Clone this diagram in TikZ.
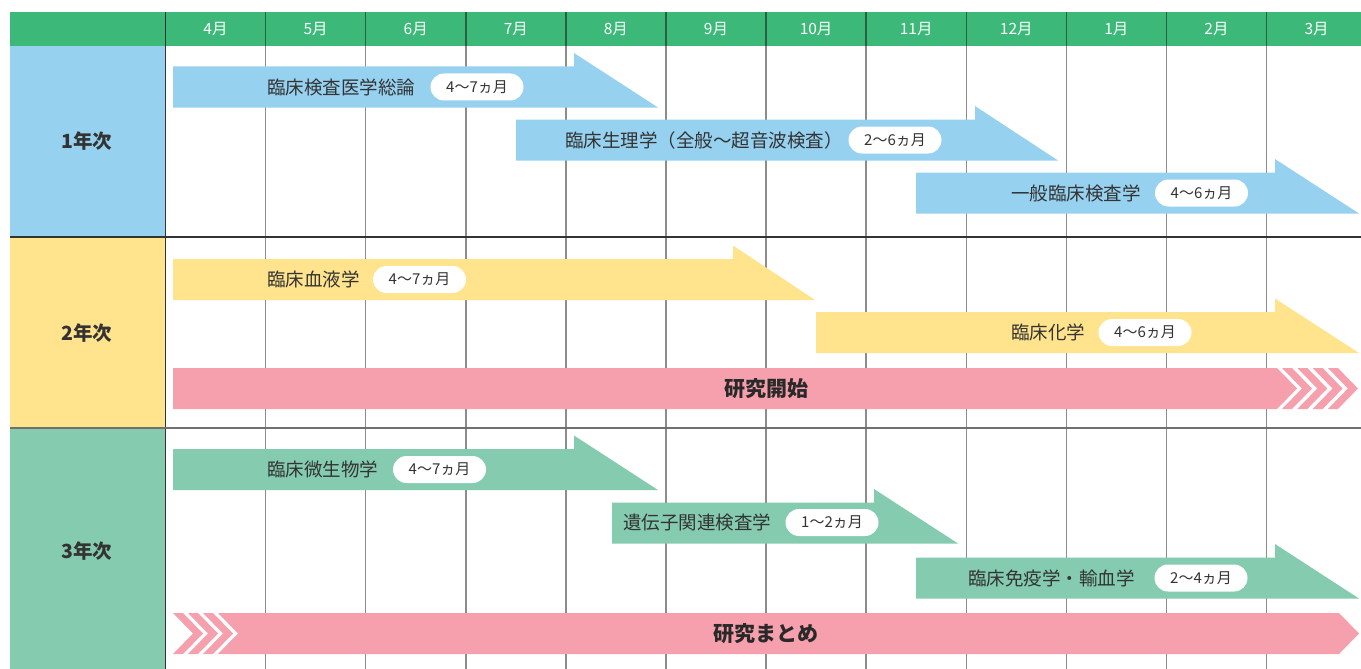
\documentclass[tikz,border=0pt]{standalone}
\usepackage{fontspec}
\setmainfont{Noto Sans CJK JP}
\definecolor{hdr}{RGB}{60,185,121}
\definecolor{hdrline}{RGB}{45,95,65}
\definecolor{cblue}{RGB}{150,209,240}
\definecolor{cyel}{RGB}{255,227,141}
\definecolor{cgrn}{RGB}{132,203,176}
\definecolor{cpink}{RGB}{245,160,172}
\definecolor{txt}{RGB}{51,51,51}
\definecolor{grid}{RGB}{140,140,140}
\tikzset{
  lbl/.style={anchor=west, inner sep=0pt, text=txt, font=\fontsize{18.5}{20}\selectfont},
  pill/.style={fill=white, rounded corners=13.5pt, minimum width=93pt, minimum height=27pt, inner sep=0pt, text=txt, font=\fontsize{15}{16}\selectfont},
  month/.style={text=white, inner sep=0pt, font=\fontsize{15.5}{16}\selectfont},
  year/.style={text=txt, inner sep=0pt, font=\bfseries\fontsize{19.5}{20}\selectfont},
  big/.style={text=txt!80!black, inner sep=0pt, font=\bfseries\fontsize{21}{22}\selectfont},
}
% arrow: #1 color, #2 left x, #3 head edge x, #4 top y, #5 tip x
\newcommand{\halfarrow}[5]{%
  \fill[#1] (#2,#4) -- (#3,#4) -- (#3,#4-13.5) -- (#5,#4+41) -- (#2,#4+41) -- cycle;}
\newcommand{\chev}[2]{% b, top
  \fill[cpink] (#1,#2) -- (#1+10,#2) -- (#1+30,#2+20.5) -- (#1+10,#2+41) -- (#1,#2+41) -- (#1+20,#2+20.5) -- cycle;}
\begin{document}
\begin{tikzpicture}[x=1pt,y=-1pt]
\useasboundingbox (0,0) rectangle (1361,669);
% header
\fill[hdr] (10,12) rectangle (1361,46);
% year cells
\fill[cblue] (10,46) rectangle (165.5,237);
\fill[cyel] (10,237) rectangle (165.5,428);
\fill[cgrn] (10,428) rectangle (165.5,669);
% grid lines
\foreach \k in {1,...,11}{
  \draw[grid, line width=1.5pt] (165.5+100.1*\k,46) -- (165.5+100.1*\k,669);
  \draw[hdrline, line width=1.5pt] (165.5+100.1*\k,12) -- (165.5+100.1*\k,46);
}
\draw[txt, line width=1.3pt] (165.5,12) -- (165.5,669);
\draw[txt, line width=1.2pt] (10,237) -- (1361,237);
\draw[txt!70, line width=1.6pt] (10,428) -- (1361,428);
% months
\foreach \m [count=\i from 0] in {4,5,6,7,8,9,10,11,12,1,2,3}{
  \node[month] (m\i) at (215.5+100.1*\i,29) {\m 月};
}
% years
\node[year] (y1) at (87,141) {1年次};
\node[year] (y2) at (87,333) {2年次};
\node[year] (y3) at (87,551) {3年次};
% row 1
\halfarrow{cblue}{173}{574}{66.5}{658}
\halfarrow{cblue}{516}{975}{119.5}{1058}
\halfarrow{cblue}{916}{1275}{172.5}{1359}
\node[lbl] (a1) at (267,87) {臨床検査医学総論};
\node[pill] (p1) at (477,87) {4〜7ヵ月};
\node[lbl] (a2) at (565,140) {臨床生理学（全般〜超音波検査）};
\node[pill] (p2) at (895,140) {2〜6ヵ月};
\node[lbl] (a3) at (1011,193) {一般臨床検査学};
\node[pill] (p3) at (1201.5,193) {4〜6ヵ月};
% row 2
\halfarrow{cyel}{173}{733}{259}{815}
\halfarrow{cyel}{816}{1275}{312}{1359}
\node[lbl] (a4) at (267,279.5) {臨床血液学};
\node[pill] (p4) at (419.5,279.5) {4〜7ヵ月};
\node[lbl] (a5) at (1011,332.5) {臨床化学};
\node[pill] (p5) at (1145,332.5) {4〜6ヵ月};
\fill[cpink] (173,368) -- (1277,368) -- (1297,388.5) -- (1277,409) -- (173,409) -- cycle;
\foreach \b in {1282,1297.3,1312.6,1327.9}{\chev{\b}{368}}
\node[big] (r1) at (766,388.5) {研究開始};
% row 3
\halfarrow{cgrn}{173}{574}{449}{658}
\halfarrow{cgrn}{612}{874}{502.5}{958}
\halfarrow{cgrn}{916}{1275}{557.5}{1359}
\node[lbl] (a7) at (267,469.5) {臨床微生物学};
\node[pill] (p7) at (439.5,469.5) {4〜7ヵ月};
\node[lbl] (a8) at (623,522.5) {遺伝子関連検査学};
\node[pill] (p8) at (832,522.5) {1〜2ヵ月};
\node[lbl] (a9) at (968,578) {臨床免疫学・輸血学};
\node[pill] (p9) at (1201,578) {2〜4ヵ月};
\foreach \b in {173,188,203}{\chev{\b}{613}}
\fill[cpink] (218,613) -- (1339,613) -- (1359,633.5) -- (1339,654) -- (218,654) -- (238,633.5) -- cycle;
\node[big] (r2) at (766,634) {研究まとめ};
\end{tikzpicture}
\end{document}
